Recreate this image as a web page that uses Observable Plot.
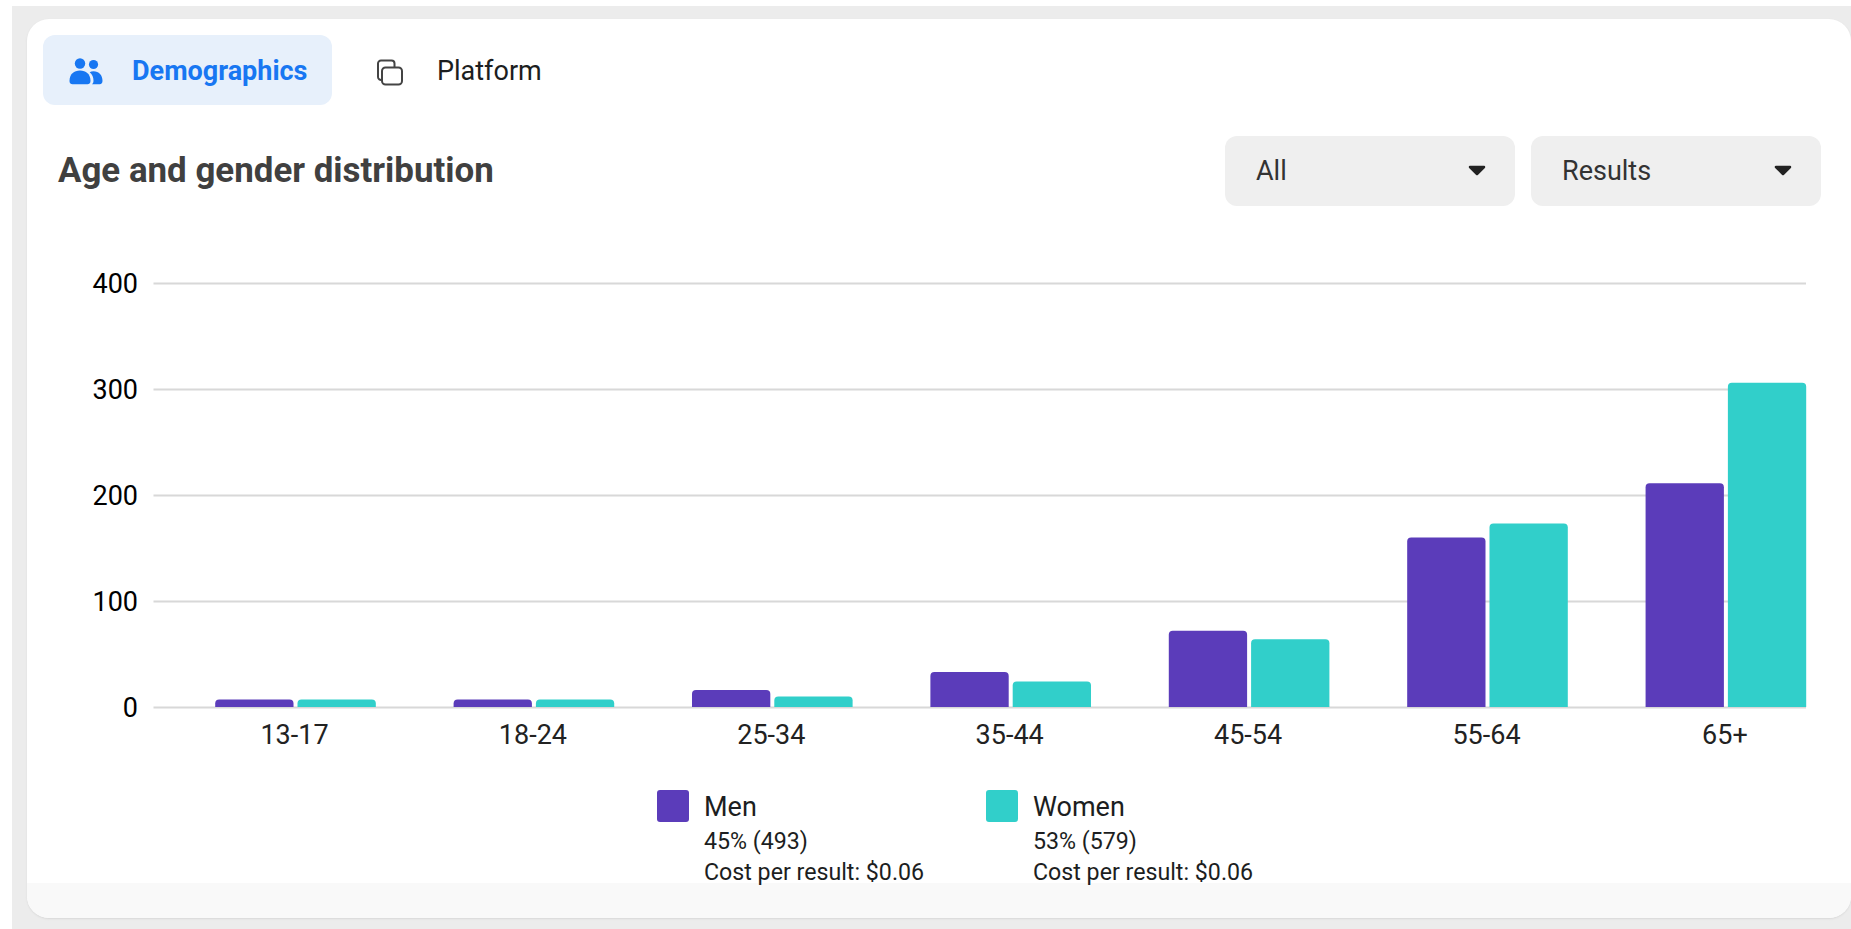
<!DOCTYPE html>
<html><head><meta charset="utf-8">
<script src="https://cdn.jsdelivr.net/npm/d3@7"></script>
<script src="https://cdn.jsdelivr.net/npm/@observablehq/plot@0.6"></script>
<style>
html,body{margin:0;padding:0;background:#fff;width:1851px;height:929px;overflow:hidden;font-family:Roboto,sans-serif}
.abs{position:absolute;white-space:nowrap}
#bg{left:12px;top:6px;right:0;bottom:0;background:#ececec}
#card{left:27px;top:19px;width:1824px;height:899px;background:#fff;border-radius:22px;overflow:hidden;box-shadow:0 1px 2px #d8d8d8}
#foot{position:absolute;left:0;right:0;bottom:0;height:35px;background:#f9f9f9}
#tab{left:43px;top:35px;width:289px;height:70px;background:#e7f0fb;border-radius:12px}
.t{line-height:1;transform:translateY(-50%)}
.box{top:136px;width:290px;height:70px;background:#efefef;border-radius:12px}
svg.icon{position:absolute}
#chart{position:absolute;left:0;top:0}
.sw{width:31.5px;height:32px;border-radius:3px;top:790px}
</style></head><body>
<div class="abs" id="bg"></div>
<div class="abs" id="card"><div id="foot"></div></div>
<div class="abs" id="tab"></div>
<svg class="icon" style="left:69px;top:58px" width="34" height="28" viewBox="0 0 34 28"><g fill="#1877f2"><circle cx="11" cy="5.5" r="5.2"/><circle cx="24.5" cy="6.5" r="4.6"/><path d="M0.5 23c0-7 4.5-10.5 10.5-10.5S21.5 16 21.5 23c0 2.5-1.5 3.2-3 3.2H3.500C1.800 26.200.5 25.500.5 23z"/><path d="M23 26.200c1-1 1.500-2 1.500-3.500 0-3.500-1.200-6.500-3.800-8.500 1-.6 2.200-.9 3.800-.9 5.500 0 9 4 9 9.500 0 2-1 3.400-2.800 3.400z"/></g></svg>
<div class="abs t" id="demog" style="left:132px;top:71px;font-size:27px;font-weight:700;color:#1877f2">Demographics</div>
<svg class="icon" style="left:375px;top:58px" width="30" height="30" viewBox="0 0 30 30"><g fill="none" stroke="#444" stroke-width="2"><path d="M3 19V5.500A3 3 0 0 1 6 2.500H16.500A3 3 0 0 1 19.500 5.500V9.500"/><path d="M3 19a3 3 0 0 0 4 2.800"/><rect x="7" y="9.500" width="20" height="17" rx="3.500"/></g></svg>
<div class="abs t" id="plat" style="left:437px;top:71px;font-size:27px;color:#1c1e21">Platform</div>
<div class="abs t" id="title" style="left:58px;top:171px;font-size:34.9px;font-weight:700;color:#404040">Age and gender distribution</div>
<div class="abs box" style="left:1225px"></div>
<div class="abs box" style="left:1531px"></div>
<div class="abs t" style="left:1256px;top:171px;font-size:27px;color:#333">All</div>
<div class="abs t" style="left:1562px;top:171px;font-size:27px;color:#333">Results</div>
<svg class="icon" style="left:1467px;top:165px" width="20" height="12" viewBox="0 0 20 12"><path d="M3 2H17L10 9Z" fill="#222" stroke="#222" stroke-width="2.500" stroke-linejoin="round"/></svg>
<svg class="icon" style="left:1773px;top:165px" width="20" height="12" viewBox="0 0 20 12"><path d="M3 2H17L10 9Z" fill="#222" stroke="#222" stroke-width="2.500" stroke-linejoin="round"/></svg>
<div id="chart"></div>
<div class="abs sw" id="sw0" style="left:657px"></div>
<div class="abs sw" id="sw1" style="left:986px"></div>
<div class="abs t" style="left:704px;top:807px;font-size:27px;color:#1c1e21">Men</div>
<div class="abs t" style="left:1033px;top:807px;font-size:27px;color:#1c1e21">Women</div>
<div class="abs t" style="left:704px;top:842px;font-size:23.2px;color:#1c1e21">45% (493)</div>
<div class="abs t" style="left:1033px;top:842px;font-size:23.2px;color:#1c1e21">53% (579)</div>
<div class="abs t" style="left:704px;top:873px;font-size:23.2px;color:#1c1e21">Cost per result: $0.06</div>
<div class="abs t" style="left:1033px;top:873px;font-size:23.2px;color:#1c1e21">Cost per result: $0.06</div>
<script>
const ages = ["13-17","18-24","25-34","35-44","45-54","55-64","65+"];
const men = [7,7,16,33,72,160,211];
const women = [7,7,10,24,64,173,306];
const sexes = ["Men","Women"];
const colors = ["#5b3cba","#31cfca"];
const yTicks = [0,100,200,300,400];

const menRows = ages.map((age,i)=>({age,sex:sexes[0],value:men[i]}));
const womenRows = ages.map((age,i)=>({age,sex:sexes[1],value:women[i]}));
document.getElementById("sw0").style.background = colors[0];
document.getElementById("sw1").style.background = colors[1];

const chart = Plot.plot({
  width:1851, height:929,
  marginLeft:153.5, marginRight:45, marginTop:283, marginBottom:222,
  style:{fontFamily:"Roboto, sans-serif",background:"transparent",overflow:"visible"},
  x:{domain:ages,range:[176.3,1845.1],paddingInner:0.6715,paddingOuter:0.3358,round:false},
  y:{domain:[0,400]},
  color:{domain:sexes,range:colors},
  marks:[
    Plot.ruleY(yTicks,{stroke:"#d8d8d8",strokeWidth:2}),
    Plot.barY(menRows,{x:"age",y:"value",fill:"sex",dx:-41.15,ry1:4}),
    Plot.barY(womenRows,{x:"age",y:"value",fill:"sex",dx:41.15,ry1:4}),
    Plot.axisY({ticks:yTicks,anchor:"left",tickSize:0,tickPadding:16,fontSize:27,fill:"#000",label:null,dy:1,tickFormat:d=>String(d)}),
    Plot.axisX({anchor:"bottom",tickSize:0,tickPadding:17.5,fontSize:27,fill:"#222",label:null,dx:-1.5})
  ]
});
document.getElementById("chart").append(chart);
</script>
</body></html>
